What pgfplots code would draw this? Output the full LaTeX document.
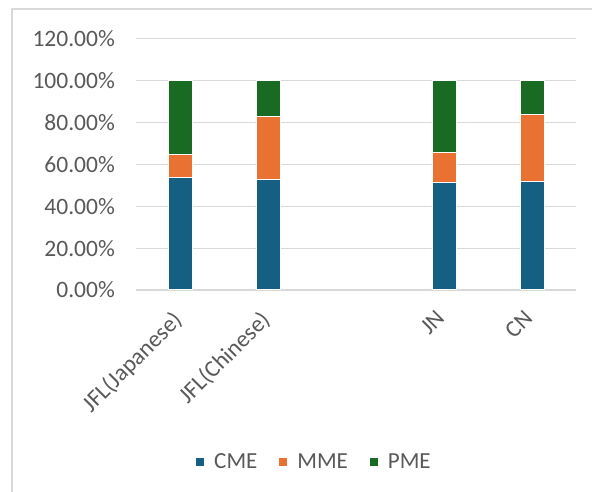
\documentclass[border=0pt]{standalone}
\usepackage{pgfplots}
\pgfplotsset{compat=1.18}
\usepackage{fontspec}
\setmainfont{Carlito}
\definecolor{cme}{HTML}{156082}
\definecolor{mme}{HTML}{E97132}
\definecolor{pme}{HTML}{196B24}
\definecolor{txt}{HTML}{595959}
\definecolor{gridc}{HTML}{D9D9D9}
\newcommand{\chartfont}{\fontsize{23bp}{27bp}\selectfont}
\newcommand{\tickfont}{\fontsize{23.5bp}{27bp}\selectfont}

\begin{document}
\begin{tikzpicture}[x=1bp,y=1bp]
\path[use as bounding box] (0,0) rectangle (592,492);
% chart area frame
\draw[gridc, line width=1.2bp] (12,0) -- (12,483) -- (592,483);
\begin{axis}[
  at={(136bp,202bp)}, anchor=south west,
  scale only axis, width=440bp, height=251.2bp,
  ybar stacked, bar width=24bp,
  xmin=-0.5, xmax=4.5, ymin=0, ymax=120,
  xtick={0,1,3,4},
  xticklabels={JFL(Japanese),JFL(Chinese),JN,CN},
  ytick={0,20,40,60,80,100,120},
  yticklabel={\pgfmathprintnumber[fixed,fixed zerofill,precision=2]{\tick}\%},
  /pgf/number format/assume math mode=true,
  major tick length=0pt,
  ymajorgrids, major grid style={gridc, line width=1.2bp},
  axis x line*=bottom, axis y line*=left,
  x axis line style={gridc, line width=1.5bp, -},
  y axis line style={draw=none},
  tick label style={font=\tickfont, text=txt},
  yticklabel style={anchor=east, inner sep=0pt, xshift=-21bp},
  xticklabel style={xshift=-9bp, yshift=-19bp, rotate=45, anchor=north east, inner sep=0pt},
  legend style={at={(0.4045,-0.685)}, anchor=center, draw=none, fill=none,
    font=\chartfont, text=txt, legend columns=3,
    /tikz/every even column/.append style={column sep=19bp}},
  legend image code/.code={\fill[#1] (0bp,-4.5bp) rectangle (9bp,4.5bp); \path (9bp,0bp) -- (16bp,0bp);},
]
\addplot[fill=cme, draw=white, line width=1bp] coordinates {(0,53.8) (1,52.6) (3,51.3) (4,51.6)};
\addlegendentry{CME}
\addplot[fill=mme, draw=white, line width=1bp] coordinates {(0,11.0) (1,30.1) (3,14.3) (4,32.0)};
\addlegendentry{MME}
\addplot[fill=pme, draw=white, line width=1bp] coordinates {(0,35.2) (1,17.3) (3,34.4) (4,16.4)};
\addlegendentry{PME}
\end{axis}
\end{tikzpicture}
\end{document}
